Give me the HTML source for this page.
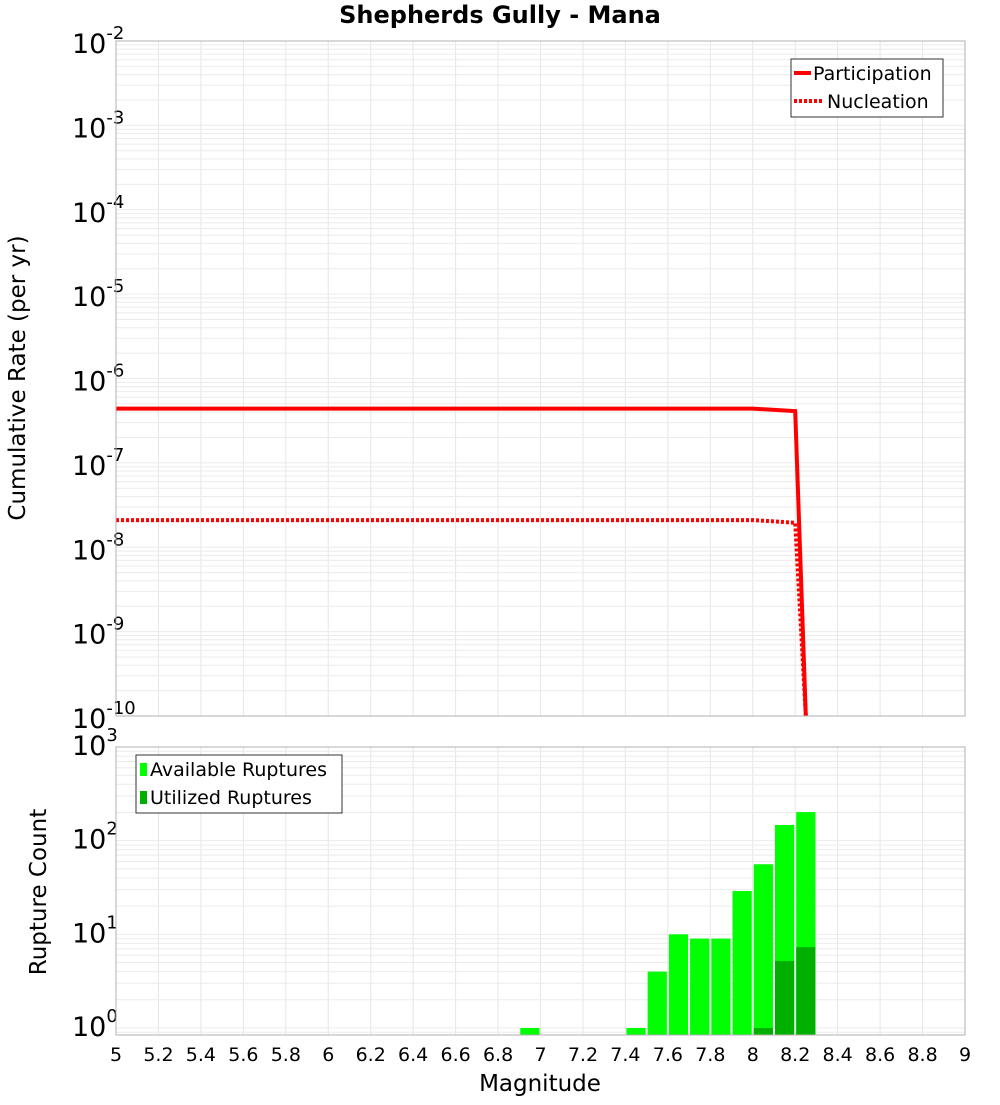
<!DOCTYPE html>
<html><head><meta charset="utf-8"><style>
body{margin:0;background:#fff;font-family:"Liberation Sans","DejaVu Sans",sans-serif}
</style></head><body>
<svg id="c" width="1000" height="1100" xmlns="http://www.w3.org/2000/svg" font-family="DejaVu Sans, Liberation Sans, sans-serif"></svg>
<script>
const magTicks=[5,5.2,5.4,5.6,5.8,6,6.2,6.4,6.6,6.8,7,7.2,7.4,7.6,7.8,8,8.2,8.4,8.6,8.8,9];
const partMags=[5,8.0,8.2,8.25];
const partRates=[4.4e-7,4.4e-7,4.1e-7,1e-10];
const nuclMags=[5,8.0,8.2,8.25];
const nuclRates=[2.1e-8,2.1e-8,1.95e-8,1e-10];
const binStarts=[6.9,7.4,7.5,7.6,7.7,7.8,7.9,8.0,8.1,8.2];
const availCounts=[1,1,4,10,9,9,29,56,147,202];
const utilCounts=[0,0,0,0,0,0,0,1,5.2,7.3];
const topDecades=[-2,-3,-4,-5,-6,-7,-8,-9,-10];
const botDecades=[3,2,1,0];

const S='http://www.w3.org/2000/svg',svg=document.getElementById('c');
function el(t,a,p){const e=document.createElementNS(S,t);for(const k in a)e.setAttribute(k,a[k]);(p||svg).appendChild(e);return e;}
const X0=116,X1=965;
const x=m=>X0+(m-5)/4*(X1-X0);
const T0=41,T1=716;
const yT=v=>T0+(-2-Math.log10(v))/8*(T1-T0);
const B0=747,B1=1035,Bz=1028,Bd=(1028-747)/3;
const yB=v=>Bz-Math.log10(v)*Bd;

function grid(y0,y1,decs,yf,name){
  const g=el('g',{});
  magTicks.forEach(m=>{el('line',{x1:x(m),x2:x(m),y1:y0,y2:y1,stroke:'#e6e6e6'},g);});
  for(let i=0;i<decs.length-1;i++){const lo=Math.min(decs[i],decs[i+1]);
    for(let k=1;k<10;k++){const yy=yf(k*Math.pow(10,lo));if(yy>=y0&&yy<=y1)el('line',{x1:X0,x2:X1,y1:yy,y2:yy,stroke:'#ebebeb'},g);}}
  const lo=Math.min(...decs);for(let k=1;k<10;k++){const yy=yf(k*Math.pow(10,lo-1));if(yy>=y0&&yy<=y1)el('line',{x1:X0,x2:X1,y1:yy,y2:yy,stroke:'#ebebeb'},g);}
}
grid(T0,T1,topDecades,yT,'top-grid');
grid(B0,B1,botDecades,yB,'bottom-grid');

let t=el('text',{x:500,y:23,'text-anchor':'middle','font-size':24,'font-weight':'bold'});t.textContent='Shepherds Gully - Mana';


topDecades.forEach(d=>{const yy=yT(Math.pow(10,d));const tx=el('text',{x:72,y:yy+12,'font-size':27});
 
 tx.innerHTML='10<tspan dy="-14" font-size="18">'+d+'</tspan>';});
botDecades.forEach(d=>{const yy=yB(Math.pow(10,d));const tx=el('text',{x:72,y:yy+8,'font-size':27});
 
 tx.innerHTML='10<tspan dy="-14" font-size="18">'+d+'</tspan>';});

function line(ms,rs,dash,name){let d='';ms.forEach((m,i)=>d+=(i?'L':'M')+x(m)+','+yT(rs[i]));
 const p=el('path',{d,fill:'none',stroke:'#ff0000','stroke-width':4,'stroke-dasharray':dash||'none'});
 }
line(nuclMags,nuclRates,'3,2','nucleation-line');
line(partMags,partRates,null,'participation-line');

binStarts.forEach((b,i)=>{const xa=x(b)+1,w=x(b+0.1)-x(b)-2;
 const r=el('rect',{x:xa,y:yB(availCounts[i]),width:w,height:B1-yB(availCounts[i]),fill:'#00ff00'});
 
 if(utilCounts[i]>0){const u=el('rect',{x:xa,y:yB(utilCounts[i]),width:w,height:B1-yB(utilCounts[i]),fill:'#00b000'});
 }});

[[T0,T1,'top-plot-frame'],[B0,B1,'bottom-plot-frame']].forEach(f=>{const r=el('rect',{x:X0,y:f[0],width:X1-X0,height:f[1]-f[0],fill:'none',stroke:'#b0b0b0'});
 });

magTicks.forEach(m=>{const tx=el('text',{x:x(m),y:1061,'text-anchor':'middle','font-size':19});tx.textContent=String(m);
 });
t=el('text',{x:540,y:1091,'text-anchor':'middle','font-size':23});t.textContent='Magnitude';

t=el('text',{x:0,y:0,'text-anchor':'middle','font-size':23,transform:'translate(25,378) rotate(-90)'});t.textContent='Cumulative Rate (per yr)';

t=el('text',{x:0,y:0,'text-anchor':'middle','font-size':23,transform:'translate(46,892) rotate(-90)'});t.textContent='Rupture Count';


let g=el('g',{});
el('rect',{x:791,y:59,width:152,height:58,fill:'#fff',stroke:'#333'},g);
el('line',{x1:794,x2:811,y1:73,y2:73,stroke:'#f00','stroke-width':4},g);
el('line',{x1:794,x2:823,y1:101,y2:101,stroke:'#f00','stroke-width':4,'stroke-dasharray':'3,2'},g);
t=el('text',{x:813,y:80,'font-size':19},g);t.textContent='Participation';
t=el('text',{x:827,y:108,'font-size':19},g);t.textContent='Nucleation';
g=el('g',{});
el('rect',{x:136,y:755,width:206,height:58,fill:'#fff',stroke:'#333'},g);
el('rect',{x:140,y:763,width:7,height:13,fill:'#00ff00'},g);
el('rect',{x:140,y:791,width:7,height:13,fill:'#00b000'},g);
t=el('text',{x:150,y:776,'font-size':19},g);t.textContent='Available Ruptures';
t=el('text',{x:150,y:804,'font-size':19},g);t.textContent='Utilized Ruptures';
</script>
</body></html>
